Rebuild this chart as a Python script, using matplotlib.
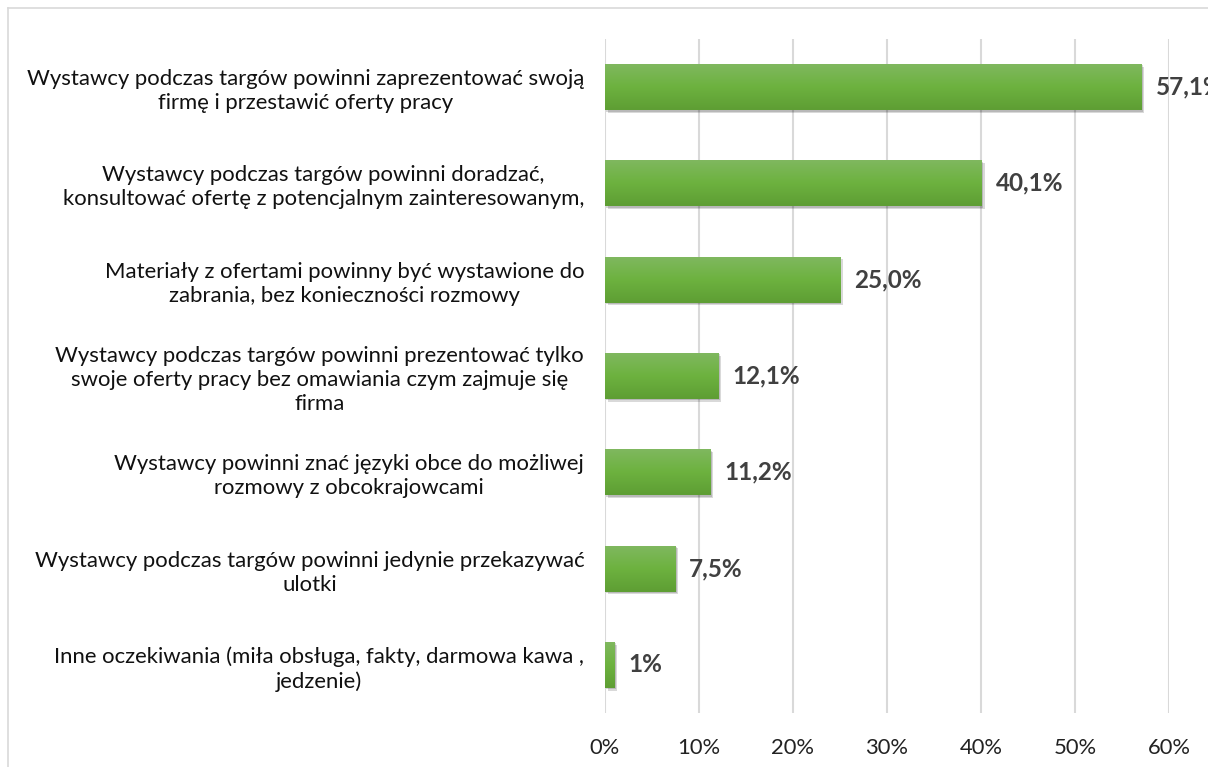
import matplotlib
matplotlib.use("Agg")
import matplotlib.pyplot as plt
import matplotlib.patheffects as pe
from matplotlib.lines import Line2D
import numpy as np

# dane
categories = [
    "Wystawcy podczas targów powinni zaprezentować swoją\nfirmę i przestawić oferty pracy",
    "Wystawcy podczas targów powinni doradzać,\nkonsultować ofertę z potencjalnym zainteresowanym,",
    "Materiały z ofertami powinny być wystawione do\nzabrania, bez konieczności rozmowy",
    "Wystawcy podczas targów powinni prezentować tylko\nswoje oferty pracy bez omawiania czym zajmuje się\nfirma",
    "Wystawcy powinni znać języki obce do możliwej\nrozmowy z obcokrajowcami",
    "Wystawcy podczas targów powinni jedynie przekazywać\nulotki",
    "Inne oczekiwania (miła obsługa, fakty, darmowa kawa ,\njedzenie)",
]
values = [57.1, 40.1, 25.0, 12.1, 11.2, 7.5, 1.0]
value_labels = ["57,1%", "40,1%", "25,0%", "12,1%", "11,2%", "7,5%", "1%"]
xticks = [0, 10, 20, 30, 40, 50, 60]
xtick_labels = ["0%", "10%", "20%", "30%", "40%", "50%", "60%"]

plt.rcParams["font.family"] = ["Lato", "DejaVu Sans"]

fig = plt.figure(figsize=(12.08, 7.67), dpi=100)
ax = fig.add_axes([0.5008, 0.0704, 0.4669, 0.8788])

y = np.arange(len(categories))
bars = ax.barh(y, values, height=0.478, color="#6cad3f", zorder=3,
               path_effects=[pe.SimplePatchShadow(offset=(2, -2), shadow_rgbFace="#000000", alpha=0.15),
                             pe.SimplePatchShadow(offset=(1, -1), shadow_rgbFace="#000000", alpha=0.15),
                             pe.Normal()])

# gradient na słupkach
grad = np.linspace(0, 1, 64).reshape(-1, 1)
cmap = matplotlib.colors.LinearSegmentedColormap.from_list("g", ["#80b860", "#6db23f", "#5e9e34"])
for rect in bars:
    x0, y0 = rect.get_x(), rect.get_y()
    w, h = rect.get_width(), rect.get_height()
    im = ax.imshow(grad, cmap=cmap, aspect="auto", extent=(x0, x0 + w, y0 + h, y0),
                   origin="upper", zorder=4)
    im.set_clip_path(rect)

for yi, v, lab in zip(y, values, value_labels):
    ax.annotate(lab, (v, yi), xytext=(10, 0), textcoords="offset points",
                va="center", ha="left", fontsize=17.5, fontweight="bold",
                color="#404040", annotation_clip=False, zorder=5)

ax.set_xlim(0, 60)
ax.set_ylim(len(categories) - 0.5, -0.5)
ax.set_xticks(xticks)
ax.set_xticklabels(xtick_labels, fontsize=15.8, color="#222222")
ax.set_yticks(y)
ax.set_yticklabels(categories, fontsize=15.9, multialignment="center",
                   linespacing=1.25, color="#111111")
ax.tick_params(axis="both", length=0)
ax.tick_params(axis="x", pad=18)
ax.tick_params(axis="y", pad=15)
ax.grid(axis="x", color="#d9d9d9", linewidth=1.5, zorder=0)
ax.set_axisbelow(True)
for s in ax.spines.values():
    s.set_visible(False)

# ramka wykresu
fx = 8 / 1208
fy = 1 - 8 / 767
fig.add_artist(Line2D([fx, fx], [0, fy], transform=fig.transFigure, color="#d9d9d9", linewidth=1.2))
fig.add_artist(Line2D([fx, 1], [fy, fy], transform=fig.transFigure, color="#d9d9d9", linewidth=1.2))

fig.savefig("out.png", dpi=100)
